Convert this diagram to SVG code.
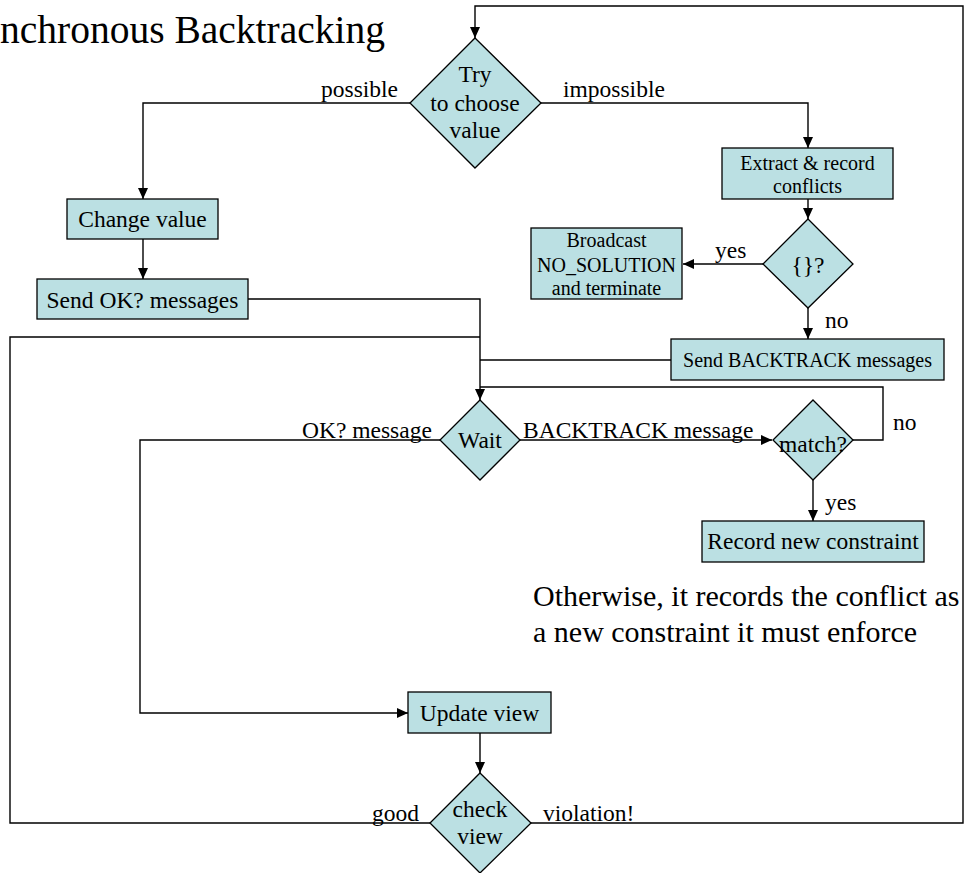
<svg xmlns="http://www.w3.org/2000/svg" width="964" height="873" viewBox="0 0 964 873">
<defs>
<style>
.n{fill:#BBE0E3;stroke:#000;stroke-width:1.3}
.t{font-family:"Liberation Serif","Times New Roman",serif;fill:#000;text-anchor:middle}
.l{font-family:"Liberation Serif","Times New Roman",serif;fill:#000;font-size:23.5px}
.c path{fill:none;stroke:#000;stroke-width:1.4}
.a{marker-end:url(#ah)}
</style>
<marker id="ah" markerUnits="userSpaceOnUse" markerWidth="11" markerHeight="10" refX="11" refY="5" orient="auto" viewBox="0 0 11 10">
<path d="M0,0 L11,5 L0,10 z" fill="#000"/>
</marker>
</defs>
<rect width="964" height="873" fill="#fff"/>
<text x="0" y="43" font-family="Liberation Serif,Times New Roman,serif" font-size="39.5">nchronous Backtracking</text>

<g class="c" id="connectors">
<path class="a" d="M531,823 H963 V6 H475 V38"/>
<path class="a" d="M410,103 H143 V199"/>
<path class="a" d="M541,103 H808 V148"/>
<path class="a" d="M808,199 V219"/>
<path class="a" d="M763,264 H683"/>
<path class="a" d="M808,308 V339"/>
<path d="M671,360 H480"/>
<path class="a" d="M143,239 V279"/>
<path class="a" d="M248,299 H480 V400"/>
<path d="M430,823 H10 V337 H480"/>
<path d="M853,440 H883 V387 H480"/>
<path class="a" d="M520,440 H772"/>
<path class="a" d="M440,440 H140 V713 H408"/>
<path class="a" d="M813,480 V521"/>
<path class="a" d="M480,733 V773"/>
</g>

<g class="l">
<text x="321" y="97">possible</text>
<text x="563" y="97">impossible</text>
<text x="715" y="258">yes</text>
<text x="825" y="328">no</text>
<text x="893" y="430">no</text>
<text x="302" y="438">OK? message</text>
<text x="523" y="438">BACKTRACK message</text>
<text x="825" y="510">yes</text>
<text x="372" y="821">good</text>
<text x="543" y="821">violation!</text>
</g>

<g id="try">
<polygon class="n" points="475,38 541,103 475,168 410,103"/>
<text class="t" font-size="23.5" x="475" y="82">Try</text>
<text class="t" font-size="23.5" x="475" y="111">to choose</text>
<text class="t" font-size="23.5" x="475" y="138">value</text>
</g>

<g id="extract">
<rect class="n" x="722" y="148" width="171" height="51"/>
<text class="t" font-size="20" x="807.5" y="170">Extract &amp; record</text>
<text class="t" font-size="20" x="807.5" y="193">conflicts</text>
</g>

<g id="empty">
<polygon class="n" points="808,219 853,264 808,308 763,264"/>
<text class="t" font-size="23.5" x="808" y="273">{}?</text>
</g>

<g id="broadcast">
<rect class="n" x="531" y="228" width="151" height="71"/>
<text class="t" font-size="20" x="606.5" y="247">Broadcast</text>
<text class="t" font-size="20" x="606.5" y="272">NO_SOLUTION</text>
<text class="t" font-size="20" x="606.5" y="295">and terminate</text>
</g>

<g id="sendbt">
<rect class="n" x="671" y="339" width="273" height="41"/>
<text class="t" font-size="20" x="807.5" y="367">Send BACKTRACK messages</text>
</g>

<g id="change">
<rect class="n" x="67" y="199" width="151" height="40"/>
<text class="t" font-size="23.5" x="142.5" y="227">Change value</text>
</g>

<g id="sendok">
<rect class="n" x="37" y="279" width="211" height="40"/>
<text class="t" font-size="23.5" x="142.5" y="308">Send OK? messages</text>
</g>

<g id="wait">
<polygon class="n" points="480,400 520,440 480,480 440,440"/>
<text class="t" font-size="23.5" x="480" y="448">Wait</text>
</g>

<g id="match">
<polygon class="n" points="813,400 853,440 813,480 773,440"/>
<text class="t" font-size="23.5" x="813" y="452">match?</text>
</g>

<g id="record">
<rect class="n" x="702" y="521" width="222" height="41"/>
<text class="t" font-size="23.5" x="813" y="549">Record new constraint</text>
</g>

<g id="note">
<text x="533" y="606" font-family="Liberation Serif,Times New Roman,serif" font-size="30">Otherwise, it records the conflict as</text>
<text x="533" y="642" font-family="Liberation Serif,Times New Roman,serif" font-size="30">a new constraint it must enforce</text>
</g>

<g id="update">
<rect class="n" x="408" y="692" width="143" height="41"/>
<text class="t" font-size="23.5" x="479.5" y="721">Update view</text>
</g>

<g id="check">
<polygon class="n" points="480,773 531,823 480,873 430,823"/>
<text class="t" font-size="23.5" x="480" y="817">check</text>
<text class="t" font-size="23.5" x="480" y="844">view</text>
</g>
</svg>
